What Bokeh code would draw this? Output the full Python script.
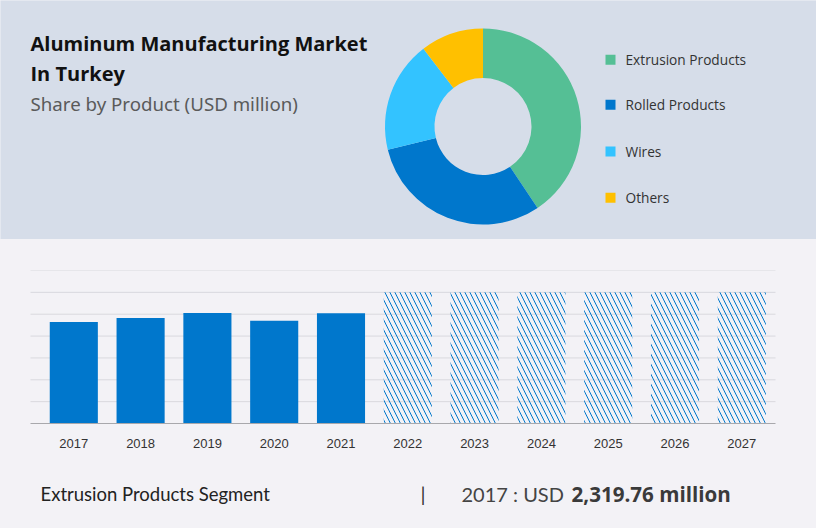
import math
from bokeh.plotting import figure
from bokeh.layouts import column
from bokeh.models import Range1d, FixedTicker, ColumnDataSource
from bokeh.core.properties import value
from bokeh.embed import file_html
from bokeh.resources import INLINE

# ---------------- data ----------------
TITLE_LINES = ["Aluminum Manufacturing Market", "In Turkey"]
SUBTITLE = "Share by Product (USD million)"

segments = ["Extrusion Products", "Rolled Products", "Wires", "Others"]
shares = [40.6, 30.6, 18.4, 10.4]
seg_colors = ["#55bf95", "#0077cc", "#33c3ff", "#ffc000"]

hist_years = ["2017", "2018", "2019", "2020", "2021"]
hist_values = [2319.76, 2416.0, 2530.0, 2348.0, 2523.0]
fc_years = ["2022", "2023", "2024", "2025", "2026", "2027"]
fc_values = [3000.0, 3000.0, 3000.0, 3000.0, 3000.0, 3000.0]
y_ticks = [0, 500, 1000, 1500, 2000, 2500, 3000, 3500]

FOOT_SEGMENT = "Extrusion Products Segment"
FOOT_YEAR = "2017"
FOOT_VALUE = 2319.76

# ---------------- styles ----------------
W = 816
PANEL = "#d6dde9"
BG = "#f3f2f6"
BAR = "#0077cc"
GRID = "#d9d9de"


def panel_fig(h, bg):
    f = figure(width=W, height=h, x_range=Range1d(0, W), y_range=Range1d(0, h),
               toolbar_location=None, output_backend="svg", min_border=0,
               x_axis_type=None, y_axis_type=None,
               background_fill_color=bg, border_fill_color=bg)
    f.grid.visible = False
    f.outline_line_color = None
    return f


# ---------------- header panel ----------------
H1 = 239
top = panel_fig(H1, PANEL)

top.text(x=[30, 30], y=[H1 - 43, H1 - 73], text=TITLE_LINES,
         text_font=value("Open Sans"), text_font_size="20px", text_font_style="bold",
         text_color="#111111", text_baseline="middle", text_align="left")
top.text(x=[30], y=[H1 - 103], text=[SUBTITLE],
         text_font=value("Noto Sans"), text_font_size="18.7px",
         text_color="#5a5a5a", text_baseline="middle", text_align="left")

total = sum(shares)
cum = [0.0]
for s in shares:
    cum.append(cum[-1] + s / total)
starts = [math.pi / 2 - 2 * math.pi * cum[i + 1] for i in range(len(shares))]
ends = [math.pi / 2 - 2 * math.pi * cum[i] for i in range(len(shares))]
dsrc = ColumnDataSource(dict(seg=segments, share=shares, color=seg_colors,
                             start=starts, end=ends))
top.annular_wedge(x=482.5, y=H1 - 126, inner_radius=48.5, outer_radius=98,
                  inner_radius_units="screen", outer_radius_units="screen",
                  start_angle="start", end_angle="end", fill_color="color",
                  line_color=None, source=dsrc)

leg_y = [H1 - 59.3, H1 - 104.3, H1 - 151, H1 - 197.3]
top.scatter(x=[610] * 4, y=leg_y, marker="square", size=10,
            fill_color=seg_colors, line_color=None)
top.text(x=[625] * 4, y=leg_y, text=segments,
         text_font=value("Open Sans"), text_font_size="13.7px",
         text_color="#333333", text_baseline="middle", text_align="left")

# ---------------- bar chart ----------------
H2 = 226
STEP = 66.8                 # pixels per category
C0 = 73.3                   # page x of the first category centre
GX0, GX1 = 30, 775          # page x extent of the gridlines / axis line
xr0, xr1 = -C0 / STEP, (W - C0) / STEP
gx0, gx1 = (GX0 - C0) / STEP, (GX1 - C0) / STEP

bars = figure(width=W, height=H2, x_range=Range1d(xr0, xr1), y_range=Range1d(0, 3500),
              toolbar_location=None, output_backend="svg",
              min_border_left=0, min_border_right=0, min_border_top=31, min_border_bottom=42,
              background_fill_color=BG, border_fill_color=BG)
bars.outline_line_color = None
bars.yaxis.visible = False
bars.grid.visible = False

# horizontal gridlines at the value ticks, limited to the chart's width
grid_y = [t for t in y_ticks if t > 0]
bars.segment(x0=[gx0] * len(grid_y), x1=[gx1] * len(grid_y), y0=grid_y, y1=grid_y,
             line_color=GRID, line_width=1)

all_years = hist_years + fc_years
bars.xaxis.ticker = FixedTicker(ticks=list(range(len(all_years))))
bars.xaxis.major_label_overrides = {i: y for i, y in enumerate(all_years)}
bars.xaxis.bounds = (gx0, gx1)
bars.xaxis.axis_line_color = "#a8a8ac"
bars.xaxis.major_tick_line_color = None
bars.xaxis.minor_tick_line_color = None
bars.xaxis.major_label_standoff = 9
bars.xaxis.major_label_text_font = "Liberation Sans"
bars.xaxis.major_label_text_font_size = "13px"
bars.xaxis.major_label_text_color = "#333333"

hsrc = ColumnDataSource(dict(x=list(range(len(hist_years))), top=hist_values, year=hist_years))
bars.vbar(x="x", top="top", width=0.72, fill_color=BAR, line_color=None, source=hsrc)
fsrc = ColumnDataSource(dict(x=list(range(len(hist_years), len(all_years))), top=fc_values, year=fc_years))
bars.vbar(x="x", top="top", width=0.72, fill_alpha=0, line_color=None,
          hatch_pattern="\\", hatch_color=BAR, hatch_scale=10, hatch_weight=1, source=fsrc)

# ---------------- footer ----------------
H3 = 63
foot = panel_fig(H3, BG)
fy = H3 - 28
foot.text(x=[40], y=[fy], text=[FOOT_SEGMENT], text_font=value("Lato"),
          text_font_size="18.5px", text_color="#222222", text_baseline="middle")
foot.text(x=[422.5], y=[fy], text=["|"], text_font=value("Lato"),
          text_font_size="20px", text_color="#333333", text_baseline="middle",
          text_align="center")
foot.text(x=[461], y=[fy], text=[f"{FOOT_YEAR} : USD"], text_font=value("Lato"),
          text_font_size="20px", text_color="#444444", text_baseline="middle")
foot.text(x=[571], y=[fy], text=[f"{FOOT_VALUE:,.2f} million"], text_font=value("Open Sans"),
          text_font_size="20.6px", text_font_style="bold", text_color="#3a3a3a",
          text_baseline="middle")

layout = column(top, bars, foot, spacing=0, styles={"background-color": BG})
open("out.html", "w").write(file_html(layout, INLINE))
